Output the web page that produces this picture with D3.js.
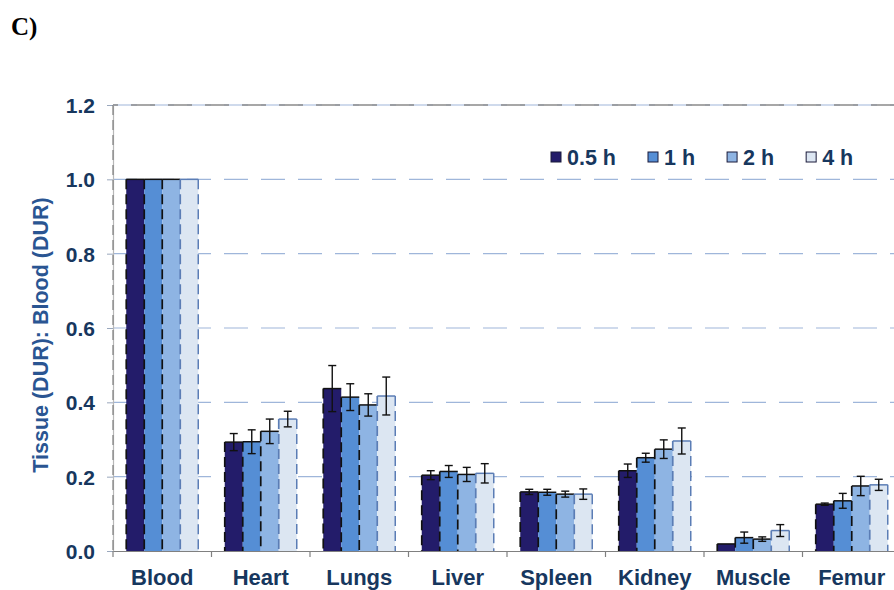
<!DOCTYPE html>
<html>
<head>
<meta charset="utf-8">
<script src="https://cdn.jsdelivr.net/npm/d3@7"></script>
<style>
  html, body { margin: 0; padding: 0; background: #fff; }
  svg { display: block; }
</style>
</head>
<body>
<svg id="chart" width="894" height="590"></svg>
<script>
// Tissue-to-blood ratios of DUR by organ and sampling time
const categories = ["Blood", "Heart", "Lungs", "Liver", "Spleen", "Kidney", "Muscle", "Femur"];
const seriesNames = ["0.5 h", "1 h", "2 h", "4 h"];
const seriesColors = ["#231c6a", "#558ed5", "#8eb4e3", "#dce6f2"];
const seriesEdges = ["#111111", "#111111", "#111111", "#5b7db5"];

const mean05 = [1.0, 0.293, 0.437, 0.204, 0.159, 0.216, 0.019, 0.126];
const mean1  = [1.0, 0.294, 0.414, 0.214, 0.158, 0.251, 0.036, 0.135];
const mean2  = [1.0, 0.322, 0.393, 0.206, 0.153, 0.274, 0.032, 0.175];
const mean4  = [1.0, 0.355, 0.417, 0.209, 0.153, 0.296, 0.055, 0.178];

const err05 = [0, 0.023, 0.062, 0.012, 0.007, 0.018, 0, 0.003];
const err1  = [0, 0.032, 0.036, 0.016, 0.008, 0.012, 0.015, 0.020];
const err2  = [0, 0.033, 0.030, 0.019, 0.008, 0.025, 0.006, 0.026];
const err4  = [0, 0.021, 0.051, 0.026, 0.014, 0.035, 0.016, 0.015];

const yTicks = [0, 0.2, 0.4, 0.6, 0.8, 1.0, 1.2];

const means = [mean05, mean1, mean2, mean4];
const errs = [err05, err1, err2, err4];

const rows = [];
categories.forEach((c, ci) => {
  seriesNames.forEach((s, si) => {
    rows.push({ cat: c, series: s, si, value: means[si][ci], err: errs[si][ci] });
  });
});

const svg = d3.select("#chart");
const plotLeft = 113, plotRight = 901, plotTop = 105, plotBottom = 551;

const x = d3.scaleBand().domain(categories).range([plotLeft, plotRight]).paddingInner(0).paddingOuter(0);
const x1 = d3.scaleBand().domain(seriesNames).range([0, x.bandwidth()]).paddingInner(0).paddingOuter(0.736);
const y = d3.scaleLinear().domain([0, 1.2]).range([plotBottom, plotTop]);

const labelColor = "#17375e";
const fontFam = "'Liberation Sans', Arial, Helvetica, sans-serif";

// panel letter
svg.append("text")
  .attr("x", 11).attr("y", 35)
  .attr("font-family", "'Liberation Serif', 'Times New Roman', serif")
  .attr("font-weight", "bold").attr("font-size", 25)
  .attr("fill", "#000").text("C)");

// horizontal gridlines
svg.append("g").selectAll("line")
  .data(yTicks.filter(d => d > 0))
  .join("line")
  .attr("x1", plotLeft).attr("x2", plotRight)
  .attr("y1", d => y(d)).attr("y2", d => y(d))
  .attr("stroke", "#9fb6da").attr("stroke-width", 1.2)
  .attr("stroke-dasharray", "24,13");

// top frame edge
svg.append("line")
  .attr("x1", plotLeft).attr("x2", plotRight)
  .attr("y1", y(1.2)).attr("y2", y(1.2))
  .attr("stroke", "#8a8a8a").attr("stroke-width", 1.4)
  .attr("stroke-dasharray", "24,13").attr("stroke-dashoffset", -18);

// y axis
const yAxis = d3.axisLeft(y).tickValues(yTicks).tickFormat(d3.format(".1f")).tickSize(6).tickPadding(12);
const gy = svg.append("g").attr("transform", `translate(${plotLeft},0)`).call(yAxis);
gy.select(".domain").attr("stroke", "#b8b8b8").attr("stroke-width", 1.2);
gy.selectAll(".tick line").attr("stroke", "#9aa8bd");
gy.selectAll(".tick text")
  .attr("font-family", fontFam).attr("font-weight", "bold")
  .attr("font-size", 21).attr("fill", labelColor).attr("dy", "0.36em");
svg.append("line")
  .attr("x1", plotLeft).attr("x2", plotLeft).attr("y1", plotTop).attr("y2", plotBottom)
  .attr("stroke", "#7f7f7f").attr("stroke-width", 1.2).attr("stroke-dasharray", "10,5");

// bars
const barG = svg.append("g");
barG.selectAll("rect")
  .data(rows)
  .join("rect")
  .attr("x", d => x(d.cat) + x1(d.series))
  .attr("y", d => y(d.value))
  .attr("width", x1.bandwidth())
  .attr("height", d => y(0) - y(d.value))
  .attr("fill", d => seriesColors[d.si]);

// bar outlines: solid top edge, dashed sides
barG.selectAll("line.top")
  .data(rows)
  .join("line").attr("class", "top")
  .attr("x1", d => x(d.cat) + x1(d.series))
  .attr("x2", d => x(d.cat) + x1(d.series) + x1.bandwidth())
  .attr("y1", d => y(d.value)).attr("y2", d => y(d.value))
  .attr("stroke", d => seriesEdges[d.si]).attr("stroke-width", 1.5);
barG.selectAll("line.side")
  .data(rows)
  .join("line").attr("class", "side")
  .attr("x1", d => x(d.cat) + x1(d.series)).attr("x2", d => x(d.cat) + x1(d.series))
  .attr("y1", d => y(d.value)).attr("y2", y(0))
  .attr("stroke", d => seriesEdges[d.si]).attr("stroke-width", 1.7)
  .attr("stroke-dasharray", "10,5");
barG.selectAll("line.rside")
  .data(rows.filter(d => d.si === 3))
  .join("line").attr("class", "rside")
  .attr("x1", d => x(d.cat) + x1(d.series) + x1.bandwidth())
  .attr("x2", d => x(d.cat) + x1(d.series) + x1.bandwidth())
  .attr("y1", d => y(d.value)).attr("y2", y(0))
  .attr("stroke", d => seriesEdges[d.si]).attr("stroke-width", 1.5)
  .attr("stroke-dasharray", "10,5");

// error bars
const errRows = rows.filter(d => d.err > 0);
const eg = svg.append("g").attr("stroke", "#111").attr("stroke-width", 1.4);
const cx = d => x(d.cat) + x1(d.series) + x1.bandwidth() / 2;
eg.selectAll("line.stem").data(errRows).join("line").attr("class", "stem")
  .attr("x1", cx).attr("x2", cx)
  .attr("y1", d => y(d.value + d.err)).attr("y2", d => y(d.value - d.err));
eg.selectAll("line.capT").data(errRows).join("line").attr("class", "capT")
  .attr("x1", d => cx(d) - 4).attr("x2", d => cx(d) + 4)
  .attr("y1", d => y(d.value + d.err)).attr("y2", d => y(d.value + d.err));
eg.selectAll("line.capB").data(errRows).join("line").attr("class", "capB")
  .attr("x1", d => cx(d) - 4).attr("x2", d => cx(d) + 4)
  .attr("y1", d => y(d.value - d.err)).attr("y2", d => y(d.value - d.err));

// x axis
const xAxis = d3.axisBottom(x).tickSize(0).tickPadding(18);
const gx = svg.append("g").attr("transform", `translate(0,${plotBottom})`).call(xAxis);
gx.select(".domain").attr("stroke", "#808080").attr("stroke-width", 1.2);
gx.selectAll(".tick text")
  .attr("font-family", fontFam).attr("font-weight", "bold")
  .attr("font-size", 22).attr("fill", labelColor).attr("dy", "0.71em");
// group separators
svg.append("g").selectAll("line")
  .data(categories)
  .join("line")
  .attr("x1", d => x(d)).attr("x2", d => x(d))
  .attr("y1", plotBottom).attr("y2", plotBottom + 6)
  .attr("stroke", "#808080").attr("stroke-width", 1.2);

// y title
svg.append("text")
  .attr("transform", `translate(48,335) rotate(-90)`)
  .attr("text-anchor", "middle")
  .attr("font-family", fontFam).attr("font-weight", "bold")
  .attr("font-size", 21.5).attr("fill", "#2a5592")
  .text("Tissue (DUR): Blood (DUR)");

// legend
const lg = svg.append("g").attr("transform", "translate(551,157)");
let lx = 0;
seriesNames.forEach((s, i) => {
  lg.append("rect").attr("x", lx).attr("y", -5).attr("width", 10).attr("height", 10)
    .attr("fill", seriesColors[i]).attr("stroke", "#1a1a3a").attr("stroke-width", 1);
  const t = lg.append("text").attr("x", lx + 16).attr("y", 7.5)
    .attr("font-family", fontFam).attr("font-weight", "bold")
    .attr("font-size", 21.5).attr("fill", labelColor).text(s);
  lx += 16 + t.node().getComputedTextLength() + 32;
});
</script>
</body>
</html>
